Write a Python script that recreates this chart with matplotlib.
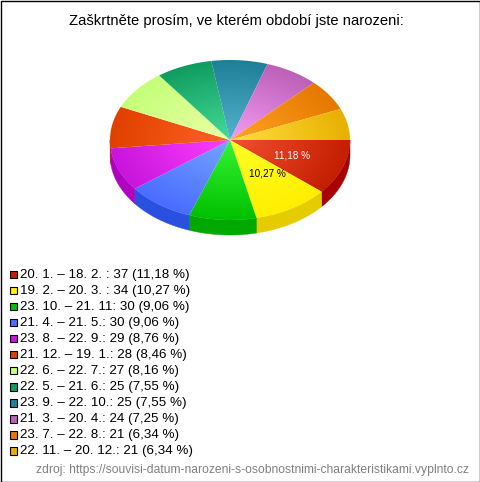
import matplotlib.pyplot as plt
import numpy as np
from matplotlib.colors import LinearSegmentedColormap
from matplotlib.patches import Polygon, Rectangle

plt.rcParams["font.family"] = ["Liberation Sans", "DejaVu Sans"]

W, H = 480, 482
TITLE = "Zaškrtněte prosím, ve kterém období jste narozeni:"
SOURCE = "zdroj: https://souvisi-datum-narozeni-s-osobnostnimi-charakteristikami.vyplnto.cz"

periods = ["20. 1. – 18. 2. ", "19. 2. – 20. 3. ", "23. 10. – 21. 11", "21. 4. – 21. 5.",
           "23. 8. – 22. 9.", "21. 12. – 19. 1.", "22. 6. – 22. 7.", "22. 5. – 21. 6.",
           "23. 9. – 22. 10.", "21. 3. – 20. 4.", "23. 7. – 22. 8.", "22. 11. – 20. 12."]
counts = [37, 34, 30, 30, 29, 28, 27, 25, 25, 24, 21, 21]
percents = ["11,18", "10,27", "9,06", "9,06", "8,76", "8,46", "8,16", "7,55", "7,55", "7,25", "6,34", "6,34"]

base_colors = ["#c41e00", "#ffee00", "#00c000", "#4a6cff", "#c814dc", "#e04000",
               "#c4ff78", "#109c60", "#1f7f98", "#bc60b8", "#e67800", "#e8b000"]
center_colors = ["#f25030", "#ffff28", "#34f434", "#74a4ff", "#ff40ff", "#ff6424",
                 "#ecffa8", "#44dc98", "#54b4cc", "#f49cf4", "#ffa424", "#ffe040"]
side_colors = ["#a80000", "#e4cc00", "#00a800", "#2a50e0", "#b000c0", "#c03000",
               "#a0d060", "#0c8050", "#186880", "#a04c9c", "#c06000", "#c89800"]

CX, CY, RX, RY, DEPTH = 230, 140, 120, 80, 15

fig = plt.figure(figsize=(W / 100, H / 100), dpi=100)
ax = fig.add_axes([0, 0, 1, 1])
ax.set_xlim(0, W)
ax.set_ylim(H, 0)
ax.axis("off")

# normalised elliptical radius, used for the radial gradient of every slice
xx, yy = np.meshgrid(np.arange(W * 2) / 2, np.arange(H * 2) / 2)
rr = np.clip(np.hypot((xx - CX) / RX, (yy - CY) / RY), 0, 1)

edges = np.concatenate([[0], np.cumsum(counts)]) / sum(counts) * 2 * np.pi

for i in range(len(counts)):
    t0, t1 = edges[i], edges[i + 1]
    # side wall, only on the front half
    if t0 < np.pi:
        ts = np.linspace(t0, min(t1, np.pi), 60)
        top = np.column_stack([CX + RX * np.cos(ts), CY + RY * np.sin(ts)])
        bottom = top[::-1] + [0, DEPTH]
        ax.add_patch(Polygon(np.vstack([top, bottom]), fc=side_colors[i], ec=side_colors[i], lw=0.3, zorder=1))

for i in range(len(counts)):
    t0, t1 = edges[i], edges[i + 1]
    ts = np.linspace(t0, t1, 80)
    arc = np.column_stack([CX + RX * np.cos(ts), CY + RY * np.sin(ts)])
    wedge = Polygon(np.vstack([[CX, CY], arc]), fc="none", ec="none", transform=ax.transData)
    ax.add_patch(wedge)
    cmap = LinearSegmentedColormap.from_list(f"s{i}", [center_colors[i], base_colors[i]])
    im = ax.imshow(rr, cmap=cmap, vmin=0, vmax=1, extent=(0, W, H, 0), interpolation="bilinear",
                   aspect="auto", zorder=2)
    im.set_clip_path(wedge)

ax.set_xlim(0, W)
ax.set_ylim(H, 0)

ax.text(236.5, 21, TITLE, fontsize=10.65, ha="center", va="center", color="black")
ax.text(292, 156, percents[0] + " %", fontsize=7.2, ha="center", va="center", color="white", zorder=3)
ax.text(267, 173, percents[1] + " %", fontsize=7.2, ha="center", va="center", color="black", zorder=3)

for i, (period, count, pct) in enumerate(zip(periods, counts, percents)):
    y = 274.3 + i * 16.03
    ax.add_patch(Rectangle((9.5, y - 3.5), 7.5, 7.5, fc=base_colors[i], ec="black", lw=0.8))
    ax.text(20, y + 0.6, f"{period}: {count} ({pct} %)", fontsize=9.65, ha="left", va="center", color="black")

# source line is stretched a little to end where the original does
src = ax.text(36, 470, SOURCE, fontsize=8.72, ha="left", va="center", color="#808080")
ax.add_patch(Rectangle((0.5, 0.5), W - 1, H - 1, fc="none", ec="black", lw=1.0, zorder=5))

fig.savefig("out.png", dpi=100)
plt.close(fig)
